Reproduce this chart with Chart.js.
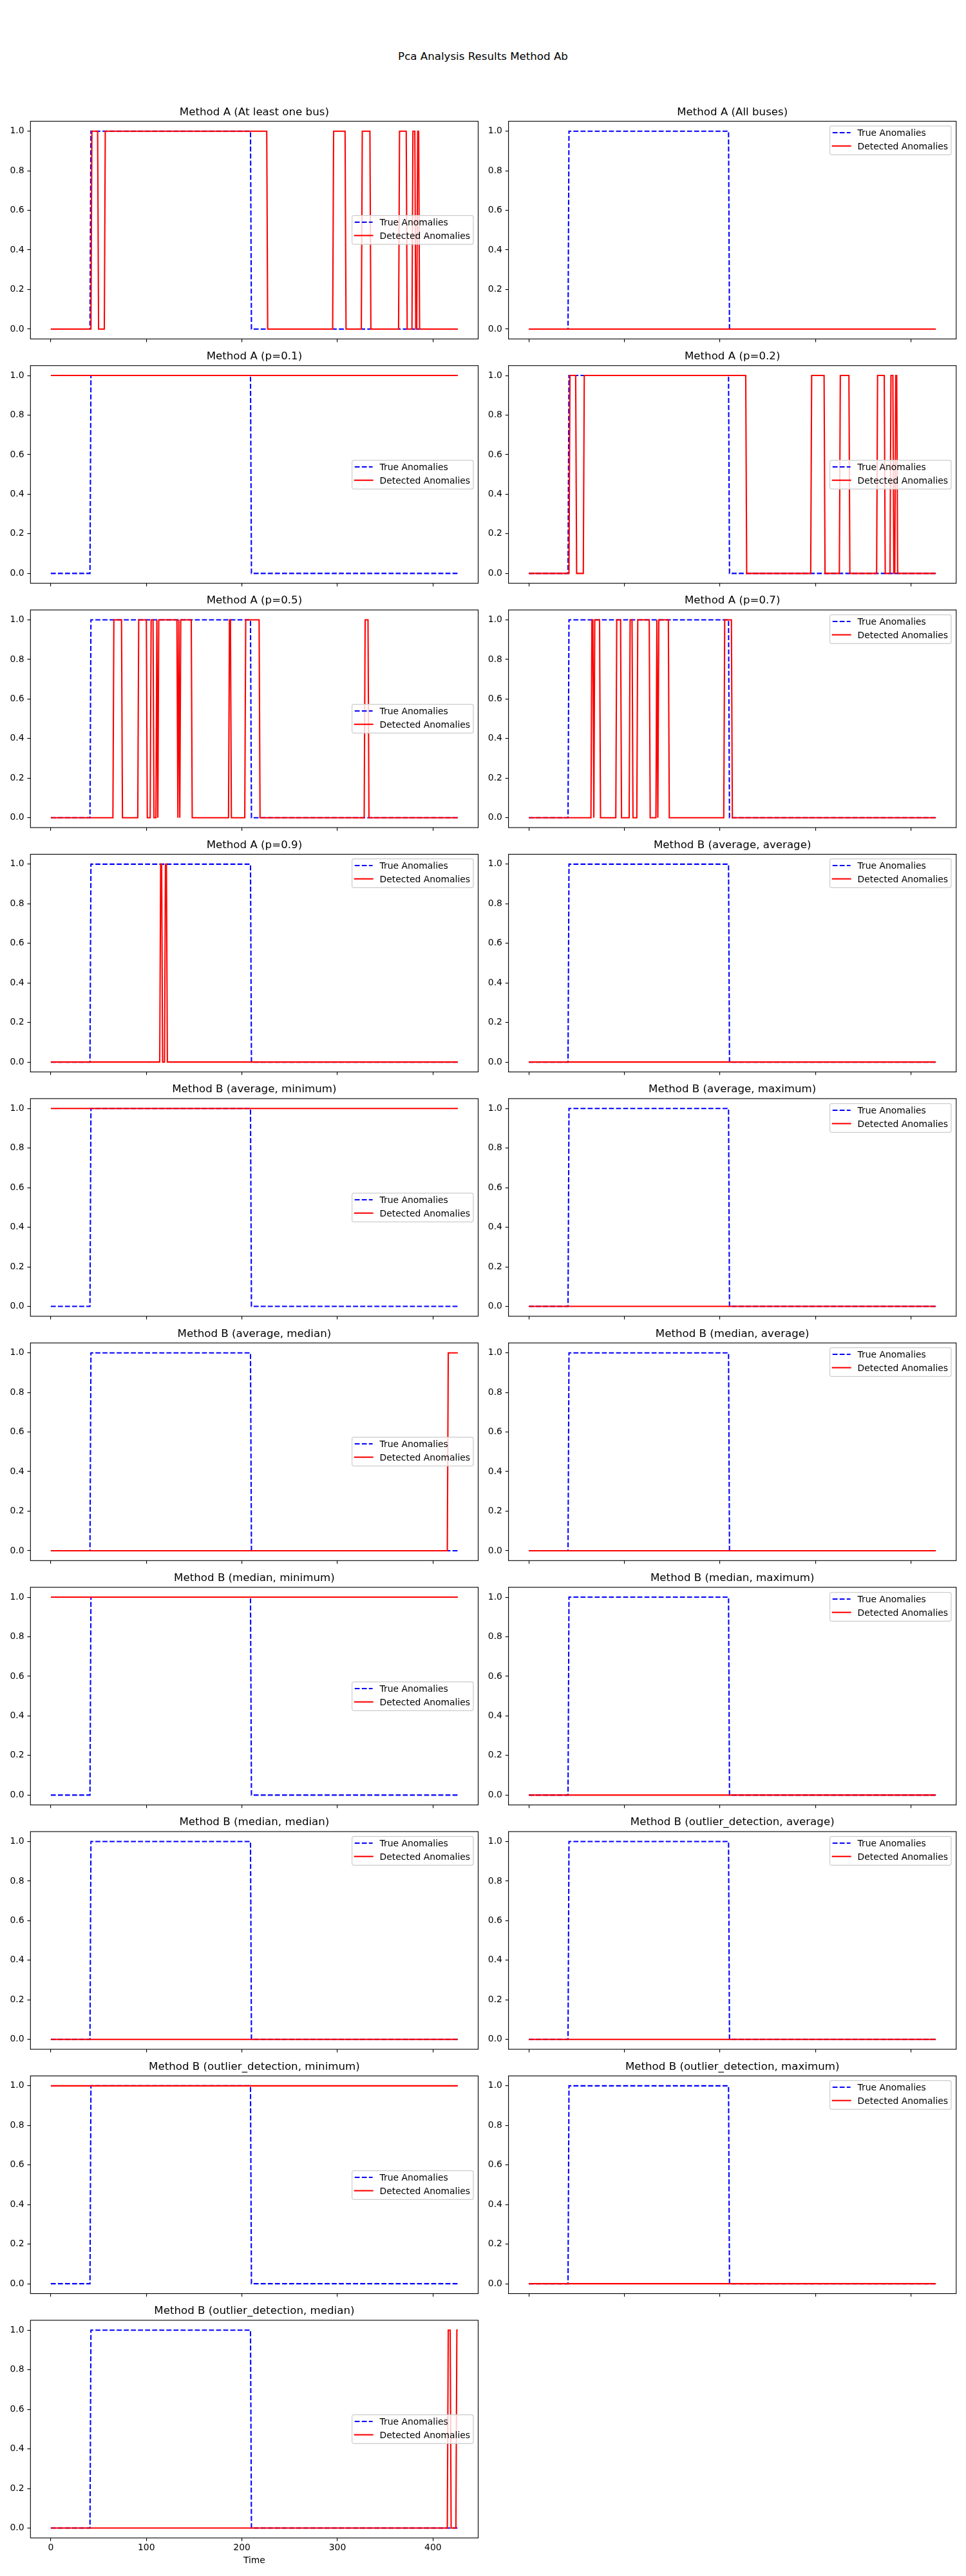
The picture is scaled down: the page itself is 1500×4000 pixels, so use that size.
<!DOCTYPE html>
<html><head><meta charset="utf-8">
<script src="https://cdn.jsdelivr.net/npm/chart.js@4.4.1/dist/chart.umd.min.js"></script>
<style>
html,body{margin:0;padding:0;background:#fff;}
#fig{position:relative;width:1500px;height:4000px;background:#fff;overflow:hidden;font-family:'DejaVu Sans';}
#fig canvas{position:absolute;}
.suptitle{position:absolute;left:0;width:1500px;text-align:center;font-size:16.67px;line-height:1;color:#000;font-family:'DejaVu Sans';}
</style></head><body><div id="fig"></div>
<script>
// ---------------- data ----------------
const figureTitle = 'Pca Analysis Results Method Ab';
const subplotTitles = [
  'Method A (At least one bus)', 'Method A (All buses)',
  'Method A (p=0.1)', 'Method A (p=0.2)',
  'Method A (p=0.5)', 'Method A (p=0.7)',
  'Method A (p=0.9)', 'Method B (average, average)',
  'Method B (average, minimum)', 'Method B (average, maximum)',
  'Method B (average, median)', 'Method B (median, average)',
  'Method B (median, minimum)', 'Method B (median, maximum)',
  'Method B (median, median)', 'Method B (outlier_detection, average)',
  'Method B (outlier_detection, minimum)', 'Method B (outlier_detection, maximum)',
  'Method B (outlier_detection, median)'
];
const seriesLabels = ['True Anomalies', 'Detected Anomalies'];
const xAxisLabel = 'Time';
const xTicks = [0, 100, 200, 300, 400];
const xTickLabels = ['0', '100', '200', '300', '400'];
const yTicks = [0, 0.2, 0.4, 0.6, 0.8, 1.0];
const yTickLabels = ['0.0', '0.2', '0.4', '0.6', '0.8', '1.0'];
const lastIndex = 426;                 // samples 0..426
// sample ranges [first, end) where the value is 1
const trueAnomalyRanges = [[42, 210]];
const detAtLeastOneBus = [[43,50],[57,227],[296,309],[326,335],[365,373],[379,382],[384,386]];
const detAllBuses = [];
const detP01 = [[0,427]];
const detP02 = [[43,50],[58,228],[296,310],[326,336],[365,373],[379,382],[384,386]];
const detP05 = [[66,75],[92,101],[105,108],[111,112],[113,133],[134,135],[136,148],[187,189],[204,219],[329,333]];
const detP07 = [[66,68],[69,75],[92,97],[106,109],[114,127],[134,135],[136,147],[205,213]];
const detP09 = [[115,117],[120,122]];
const detAvgAvg = [];
const detAvgMin = [[0,427]];
const detAvgMax = [];
const detAvgMedian = [[416,427]];
const detMedianAvg = [];
const detMedianMin = [[0,427]];
const detMedianMax = [];
const detMedianMedian = [];
const detOutlierAvg = [];
const detOutlierMin = [[0,427]];
const detOutlierMax = [];
const detOutlierMedian = [[416,419],[425,427]];
const detectedRanges = [detAtLeastOneBus, detAllBuses, detP01, detP02, detP05, detP07, detP09,
  detAvgAvg, detAvgMin, detAvgMax, detAvgMedian, detMedianAvg, detMedianMin, detMedianMax,
  detMedianMedian, detOutlierAvg, detOutlierMin, detOutlierMax, detOutlierMedian];
const legendLoc = ['center right','upper right','center right','center right','center right','upper right',
  'upper right','upper right','center right','upper right','center right','upper right','center right',
  'upper right','upper right','upper right','center right','upper right','center right'];

// ---------------- helpers ----------------
function buildPoints(ranges) {
  if (!ranges.length) return [{x:0,y:0},{x:lastIndex,y:0}];
  const pts = [];
  if (ranges[0][0] > 0) pts.push({x:0,y:0});
  for (const [a,b] of ranges) {
    if (a > 0) pts.push({x:a-1,y:0});
    pts.push({x:a,y:1});
    pts.push({x:Math.min(b-1,lastIndex),y:1});
    if (b <= lastIndex) pts.push({x:b,y:0});
  }
  if (ranges[ranges.length-1][1] <= lastIndex) pts.push({x:lastIndex,y:0});
  return pts;
}

const fig = document.getElementById('fig');
const st = document.createElement('div');
st.className = 'suptitle'; st.style.top = '80.2px'; st.textContent = figureTitle;
fig.appendChild(st);

Chart.defaults.font.family = "'DejaVu Sans'";
Chart.defaults.color = '#000';

const framePlugin = {
  id: 'frame',
  afterDatasetsDraw(chart) {
    const {ctx, chartArea: a} = chart;
    ctx.save();
    ctx.strokeStyle = '#000'; ctx.lineWidth = 1.11;
    ctx.strokeRect(a.left, a.top, a.right - a.left, a.bottom - a.top);
    ctx.restore();
  }
};

const AX_L = [47.3, 789.6], AX_W = 695.2, AX_TOP0 = 188.3, ROW_STEP = 379.4, AX_H = 338;
const FS_TICK = 13.9, FS_TITLE = 16.67;
const RED = '#ff0000', BLUE = '#0000ff';
const SVGNS = 'http://www.w3.org/2000/svg';

function makeLegend(loc, axL, axT) {
  const w = 189.6, h = 46;
  const left = axL + AX_W - 6.94 - w;
  const top = loc === 'upper right' ? axT + 6.94 : axT + AX_H / 2 - h / 2;
  const svg = document.createElementNS(SVGNS, 'svg');
  svg.setAttribute('width', w); svg.setAttribute('height', h);
  svg.style.position = 'absolute'; svg.style.left = left + 'px'; svg.style.top = top + 'px';
  svg.style.overflow = 'visible';
  const rect = document.createElementNS(SVGNS, 'rect');
  rect.setAttribute('x', 0.6); rect.setAttribute('y', 0.6);
  rect.setAttribute('width', w - 1.2); rect.setAttribute('height', h - 1.2);
  rect.setAttribute('rx', 2.8);
  rect.setAttribute('fill', 'rgba(255,255,255,0.8)');
  rect.setAttribute('stroke', '#cccccc'); rect.setAttribute('stroke-width', 1.2);
  svg.appendChild(rect);
  const rows = [11, 31.7];
  const styles = [
    {stroke:BLUE, dash:'7.7 3.33', cap:'butt'},
    {stroke:RED, dash:null, cap:'square'}
  ];
  rows.forEach((ry, k) => {
    const ln = document.createElementNS(SVGNS, 'line');
    ln.setAttribute('x1', 4.8); ln.setAttribute('x2', 32.6);
    ln.setAttribute('y1', ry); ln.setAttribute('y2', ry);
    ln.setAttribute('stroke', styles[k].stroke); ln.setAttribute('stroke-width', 2.08);
    ln.setAttribute('stroke-linecap', styles[k].cap);
    if (styles[k].dash) ln.setAttribute('stroke-dasharray', styles[k].dash);
    svg.appendChild(ln);
    const tx = document.createElementNS(SVGNS, 'text');
    tx.setAttribute('x', 43.6); tx.setAttribute('y', ry + 5.07);
    tx.setAttribute('font-size', FS_TICK); tx.setAttribute('font-family', 'DejaVu Sans');
    tx.setAttribute('fill', '#000');
    tx.textContent = seriesLabels[k];
    svg.appendChild(tx);
  });
  fig.appendChild(svg);
}

subplotTitles.forEach((title, i) => {
  const col = i % 2, row = Math.floor(i / 2);
  const axL = AX_L[col], axT = AX_TOP0 + row * ROW_STEP;
  const cl = Math.floor(axL) - 45, yW = axL - cl;
  const cw = Math.ceil(yW + AX_W + 45), padR = cw - yW - AX_W;
  const ct = Math.floor(axT) - 40, titleH = axT - ct;
  const ch = Math.ceil(titleH + AX_H + 60), padB = ch - titleH - AX_H - 60;
  const tPadTop = titleH - 24.1, tPadBottom = 4.1;
  const labeled = (i === 18);

  const canvas = document.createElement('canvas');
  canvas.width = cw; canvas.height = ch;
  canvas.style.left = cl + 'px'; canvas.style.top = ct + 'px';
  canvas.style.width = cw + 'px'; canvas.style.height = ch + 'px';
  fig.appendChild(canvas);

  const tickGrid = {display:true, drawOnChartArea:false, drawTicks:true, tickLength:4.86,
                    tickWidth:1.11, tickColor:'#000', color:'#000', lineWidth:1.11};
  new Chart(canvas, {
    type: 'line',
    data: { datasets: [
      { label: seriesLabels[0], data: buildPoints(trueAnomalyRanges), borderColor:BLUE,
        borderWidth:2.08, borderDash:[7.7,3.33], pointRadius:0, fill:false, tension:0, order:2 },
      { label: seriesLabels[1], data: buildPoints(detectedRanges[i]), borderColor:RED,
        borderWidth:2.08, pointRadius:0, fill:false, tension:0, order:1 }
    ]},
    options: {
      responsive:false, animation:false, devicePixelRatio:1, events:[],
      layout:{padding:{left:0, right:padR, top:0, bottom:padB}},
      plugins:{
        legend:{display:false}, tooltip:{enabled:false},
        title:{display:true, text:title, fullSize:false, color:'#000',
               font:{family:"'DejaVu Sans'", size:FS_TITLE, weight:'normal', lineHeight:1.2},
               padding:{top:tPadTop, bottom:tPadBottom}}
      },
      scales:{
        x:{ type:'linear', min:-21.3, max:447.3,
            afterBuildTicks: s => { s.ticks = xTicks.map(v => ({value:v})); },
            afterFit: s => { s.height = 60; },
            grid: tickGrid, border:{display:false},
            ticks:{display:labeled, autoSkip:false, maxRotation:0, minRotation:0, padding:2.4,
                   color:'#000', font:{size:FS_TICK}, callback:(v, idx) => xTickLabels[idx]},
            title:{display:labeled, text:xAxisLabel, color:'#000', font:{size:FS_TICK},
                   padding:{top:0, bottom:15.67}} },
        y:{ type:'linear', min:-0.05, max:1.05,
            afterBuildTicks: s => { s.ticks = yTicks.map(v => ({value:v})); },
            afterFit: s => { s.width = yW; },
            grid: tickGrid, border:{display:false},
            ticks:{padding:4.86, color:'#000', font:{size:FS_TICK}, callback:(v, idx) => yTickLabels[idx]} }
      }
    },
    plugins:[framePlugin]
  });
  makeLegend(legendLoc[i], axL, axT);
});
</script></body></html>
